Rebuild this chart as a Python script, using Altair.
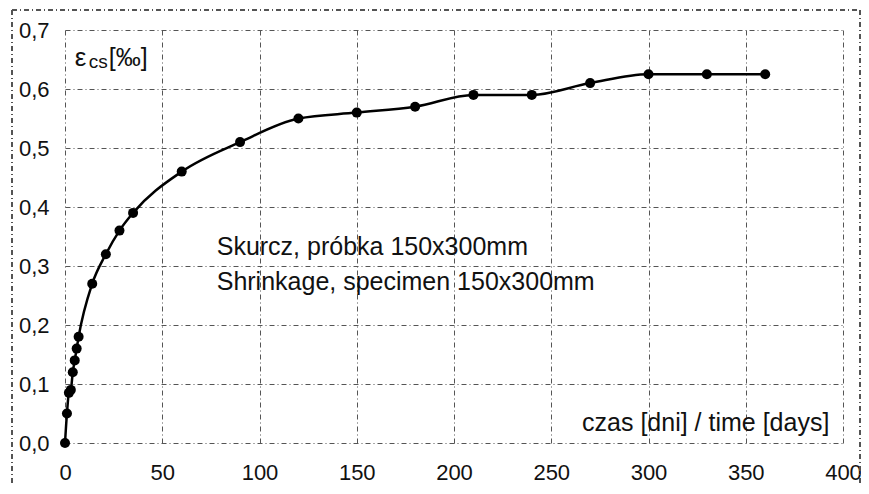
import altair as alt
import pandas as pd

# Measured shrinkage (per mille) vs time (days)
days = [0, 1, 2, 3, 4, 5, 6, 7, 14, 21, 28, 35, 60, 90, 120, 150, 180, 210, 240, 270, 300, 330, 360]
strain = [0.0, 0.05, 0.085, 0.09, 0.12, 0.14, 0.16, 0.18, 0.27, 0.32, 0.36, 0.39, 0.46, 0.51, 0.55, 0.56, 0.57,
          0.59, 0.59, 0.61, 0.625, 0.625, 0.625]

x_ticks = [0, 50, 100, 150, 200, 250, 300, 350, 400]
y_ticks = [0.0, 0.1, 0.2, 0.3, 0.4, 0.5, 0.6, 0.7]

note_lines = ["Skurcz, próbka 150x300mm", "Shrinkage, specimen 150x300mm"]
note_x = [78, 78]
note_y = [0.319, 0.259]

xlabel_text = ["czas [dni] / time [days]"]
xlabel_x = [393]
xlabel_y = [0.02]

ylabel_parts = ["ε", "cs", "[‰]"]
ylabel_x = [5, 12.2, 22.5]
ylabel_y = [0.639, 0.636, 0.639]
ylabel_size = [26, 19, 25]

FONT = "Liberation Sans"
GRID = "#555555"
DASH = [5, 3, 1, 3]

df = pd.DataFrame({"t": days, "e": strain})
notes = pd.DataFrame({"x": note_x, "y": note_y, "txt": note_lines})
xlab = pd.DataFrame({"x": xlabel_x, "y": xlabel_y, "txt": xlabel_text})
ylab = pd.DataFrame({"x": ylabel_x, "y": ylabel_y, "txt": ylabel_parts, "s": ylabel_size})

xscale = alt.Scale(domain=[0, 400], nice=False, zero=True)
yscale = alt.Scale(domain=[0, 0.7], nice=False, zero=True)

xaxis = alt.Axis(values=x_ticks, title=None, grid=True, gridColor=GRID, gridDash=DASH, gridWidth=1,
                 domain=False, ticks=False, labelFont=FONT, labelFontSize=22, labelColor="#111111",
                 labelPadding=19, labelFlush=False, labelOverlap=False, labelBound=False)
yaxis = alt.Axis(values=y_ticks, title=None, grid=True, gridColor=GRID, gridDash=DASH, gridWidth=1,
                 domain=False, ticks=False, labelFont=FONT, labelFontSize=22, labelColor="#111111",
                 labelPadding=16, labelFlush=False, labelOverlap=False,
                 labelExpr="replace(format(datum.value, '.1f'), '.', ',')")

base = alt.Chart(df)

line = base.mark_line(color="black", strokeWidth=2.5, interpolate="monotone").encode(
    x=alt.X("t:Q", scale=xscale, axis=xaxis),
    y=alt.Y("e:Q", scale=yscale, axis=yaxis),
)
pts = base.mark_circle(color="black", size=100, opacity=1).encode(
    x=alt.X("t:Q", scale=xscale),
    y=alt.Y("e:Q", scale=yscale),
)

note_layer = alt.Chart(notes).mark_text(align="left", baseline="alphabetic", font=FONT, fontSize=25,
                                         color="#111111").encode(
    x=alt.X("x:Q", scale=xscale), y=alt.Y("y:Q", scale=yscale), text="txt:N")

xlab_layer = alt.Chart(xlab).mark_text(align="right", baseline="alphabetic", font=FONT, fontSize=25,
                                        color="#111111").encode(
    x=alt.X("x:Q", scale=xscale), y=alt.Y("y:Q", scale=yscale), text="txt:N")

ylab_layer = alt.Chart(ylab).mark_text(align="left", baseline="alphabetic", font=FONT,
                                        color="#111111").encode(
    x=alt.X("x:Q", scale=xscale), y=alt.Y("y:Q", scale=yscale), text="txt:N",
    size=alt.Size("s:Q", scale=None, legend=None))

# outer dashed chart frame
frame_left = alt.Chart(df).mark_rule(color=GRID, strokeDash=DASH, strokeWidth=1).encode(
    x=alt.value(-53), y=alt.value(-20), y2=alt.value(456))
frame_top = alt.Chart(df).mark_rule(color=GRID, strokeDash=DASH, strokeWidth=1).encode(
    x=alt.value(-53), x2=alt.value(795), y=alt.value(-20))
frame_right = alt.Chart(df).mark_rule(color=GRID, strokeDash=DASH, strokeWidth=1).encode(
    x=alt.value(795), y=alt.value(-20), y2=alt.value(456))

chart = alt.layer(frame_left, frame_top, frame_right, line, pts, note_layer, xlab_layer, ylab_layer).properties(
    width=778, height=413,
    autosize=alt.AutoSizeParams(type="none"),
    padding={"left": 57, "top": 22, "right": 18, "bottom": 43},
    background="white",
).configure_view(stroke=None)

chart.save("out.html", embed_options={"renderer": "svg", "actions": False})
